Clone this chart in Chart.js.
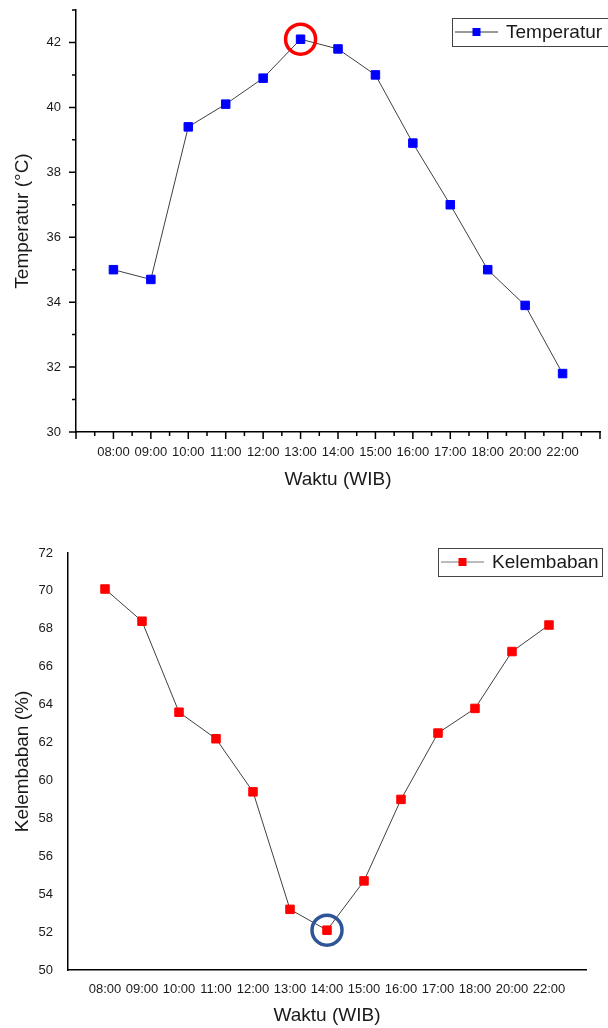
<!DOCTYPE html>
<html>
<head>
<meta charset="utf-8">
<script src="https://cdn.jsdelivr.net/npm/chart.js@4"></script>
<style>
  html, body { margin: 0; padding: 0; background: #fff; }
  #top, #bottom { position: absolute; left: 0; }
  #top { top: 0; }
  #bottom { top: 500px; }
</style>
</head>
<body>
<div id="top"><canvas id="tempChart" width="608" height="500"></canvas></div>
<div id="bottom"><canvas id="humChart" width="608" height="528"></canvas></div>
<script>
const hours = ['08:00', '09:00', '10:00', '11:00', '12:00', '13:00', '14:00', '15:00', '16:00', '17:00', '18:00', '20:00', '22:00'];
const temperature = [35.0, 34.7, 39.4, 40.1, 40.9, 42.1, 41.8, 41.0, 38.9, 37.0, 35.0, 33.9, 31.8];
const humidity = [70.1, 68.4, 63.6, 62.2, 59.4, 53.2, 52.1, 54.7, 59.0, 62.5, 63.8, 66.8, 68.2];
const tempTicks = [30, 32, 34, 36, 38, 40, 42];
const humTicks = [50, 52, 54, 56, 58, 60, 62, 64, 66, 68, 70, 72];

Chart.defaults.font.family = '"Liberation Sans", Arial, sans-serif';
Chart.defaults.color = '#1a1a1a';

// hand drawn tick marks: long at major values, short at minor ones
const tickMarks = {
    id: 'tickMarks',
    afterDraw(chart, args, opts) {
        if (!opts.enabled) return;
        const ctx = chart.ctx;
        const { x, y } = chart.scales;
        ctx.save();
        ctx.strokeStyle = '#000';
        ctx.lineWidth = 1.5;
        ctx.beginPath();
        for (let v = x.min; v <= x.max; v += 0.5) {
            const px = x.getPixelForValue(v);
            const len = Number.isInteger(v) ? 7 : 4;
            ctx.moveTo(px, y.bottom);
            ctx.lineTo(px, y.bottom + len);
        }
        for (let v = y.min; v <= y.max; v += 1) {
            const py = y.getPixelForValue(v);
            const len = v % 2 === 0 ? 7 : 4;
            ctx.moveTo(x.left, py);
            ctx.lineTo(x.left - len, py);
        }
        ctx.stroke();
        ctx.restore();
    }
};

// boxed legend in the Origin style
const boxLegend = {
    id: 'boxLegend',
    afterDraw(chart, args, opts) {
        const ctx = chart.ctx;
        const ds = chart.data.datasets[0];
        const [bx, by, bw, bh] = opts.box;
        const my = by + bh / 2;
        ctx.save();
        ctx.strokeStyle = '#444';
        ctx.lineWidth = 1;
        ctx.strokeRect(bx + 0.5, by + 0.5, bw, bh);
        ctx.strokeStyle = opts.lineColor;
        ctx.beginPath();
        ctx.moveTo(bx + 3, my);
        ctx.lineTo(bx + 3 + opts.lineLen, my);
        ctx.stroke();
        const cx = bx + 3 + opts.lineLen / 2;
        ctx.fillStyle = ds.pointBackgroundColor;
        ctx.fillRect(cx - 4, my - 4, 8, 8);
        ctx.fillStyle = '#1a1a1a';
        ctx.font = '19px "Liberation Sans", Arial, sans-serif';
        ctx.textBaseline = 'middle';
        ctx.fillText(ds.label, bx + opts.lineLen + 11, my + 1);
        ctx.restore();
    }
};

// circle round one highlighted point
const ringMark = {
    id: 'ringMark',
    afterDatasetsDraw(chart, args, opts) {
        const ctx = chart.ctx;
        const value = chart.data.datasets[0].data[opts.index].y;
        const px = chart.scales.x.getPixelForValue(opts.index);
        const py = chart.scales.y.getPixelForValue(value);
        ctx.save();
        ctx.strokeStyle = opts.color;
        ctx.lineWidth = 3.5;
        ctx.beginPath();
        ctx.arc(px, py, 15, 0, Math.PI * 2);
        ctx.stroke();
        ctx.restore();
    }
};

function makeChart(id, cfg) {
    return new Chart(document.getElementById(id), {
        type: 'line',
        data: {
            datasets: [{
                label: cfg.label,
                data: cfg.values.map((v, i) => ({ x: i, y: v })),
                borderColor: '#404040',
                borderWidth: 1,
                pointStyle: 'rect',
                pointRadius: 6,
                pointBorderWidth: 1,
                pointBackgroundColor: cfg.color,
                pointBorderColor: cfg.color,
                tension: 0
            }]
        },
        options: {
            responsive: false,
            animation: false,
            devicePixelRatio: 1,
            layout: { padding: cfg.padding },
            plugins: {
                legend: { display: false },
                tooltip: { enabled: false },
                tickMarks: { enabled: cfg.ticks },
                boxLegend: cfg.legend,
                ringMark: cfg.ring
            },
            scales: {
                x: {
                    type: 'linear',
                    min: -1,
                    max: 13,
                    afterBuildTicks: s => { s.ticks = hours.map((h, i) => ({ value: i })); },
                    afterFit: s => {
                        s.height = cfg.xHeight;
                        s.paddingLeft = 0;
                        s.paddingRight = 0;
                    },
                    grid: { display: false, drawTicks: false },
                    border: { color: '#000', width: 1.5 },
                    ticks: {
                        autoSkip: false,
                        maxRotation: 0,
                        padding: cfg.xPad,
                        font: { size: 13 },
                        callback: v => hours[v]
                    },
                    title: {
                        display: true,
                        text: 'Waktu (WIB)',
                        font: { size: 19 },
                        padding: { top: 0, bottom: cfg.titlePad }
                    }
                },
                y: {
                    min: cfg.yMin,
                    max: cfg.yMax,
                    afterBuildTicks: s => { s.ticks = cfg.yTicks.map(v => ({ value: v })); },
                    afterFit: s => {
                        s.width = cfg.yWidth;
                        s.paddingTop = 0;
                        s.paddingBottom = 0;
                    },
                    grid: { display: false, drawTicks: false },
                    border: { color: '#000', width: 1.5 },
                    ticks: { padding: 15, font: { size: 13 } },
                    title: {
                        display: true,
                        text: cfg.yTitle,
                        font: { size: 19 },
                        padding: { top: 11, bottom: 0 }
                    }
                }
            }
        },
        plugins: [tickMarks, boxLegend, ringMark]
    });
}

makeChart('tempChart', {
    label: 'Temperatur',
    values: temperature,
    color: '#0000ff',
    yMin: 30, yMax: 43, yTicks: tempTicks,
    yTitle: 'Temperatur (\u00B0C)',
    padding: { top: 10, right: 8, left: 0, bottom: 0 },
    xHeight: 68, yWidth: 76, xPad: 13, titlePad: 9,
    ticks: true,
    legend: { box: [452, 18, 156, 28], lineLen: 43, lineColor: '#333' },
    ring: { index: 5, color: '#ff0000' }
});

makeChart('humChart', {
    label: 'Kelembaban',
    values: humidity,
    color: '#ff0000',
    yMin: 50, yMax: 72, yTicks: humTicks,
    yTitle: 'Kelembaban (%)',
    padding: { top: 53, right: 22, left: 0, bottom: 0 },
    xHeight: 58, yWidth: 68, xPad: 12, titlePad: 1,
    ticks: false,
    legend: { box: [438, 48, 164, 28], lineLen: 43, lineColor: '#777' },
    ring: { index: 6, color: '#2e5597' }
});
</script>
</body>
</html>
